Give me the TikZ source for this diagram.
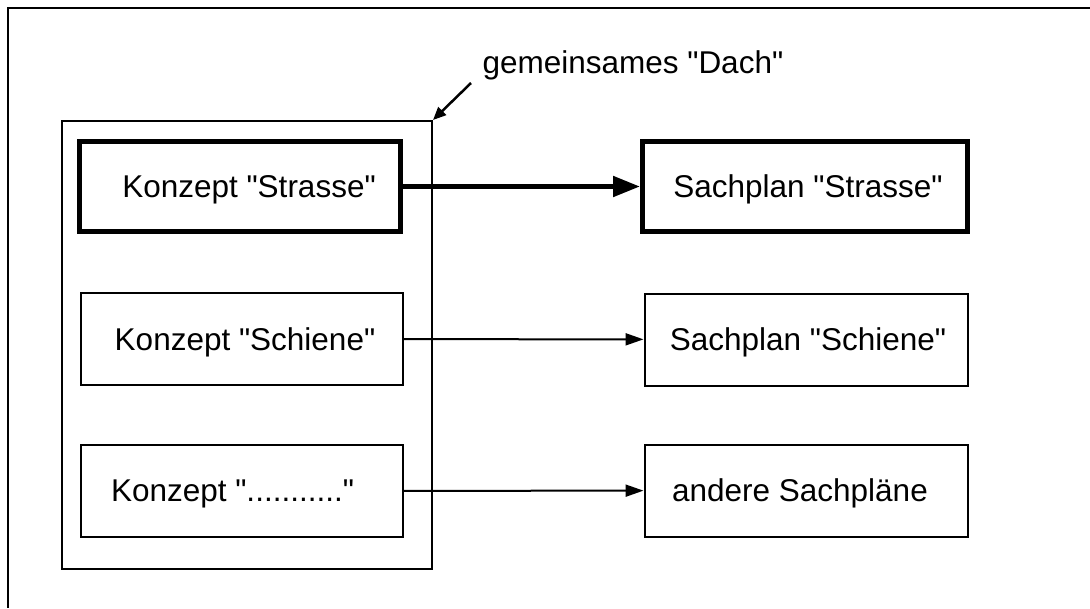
\documentclass[tikz,border=0pt]{standalone}
\usepackage{fontspec}
\setmainfont{Liberation Sans}
\usetikzlibrary{arrows.meta}
\newcommand{\qd}{\textquotedbl}

\begin{document}
\begin{tikzpicture}[x=1pt,y=-1pt,
  every node/.style={font=\fontsize{31.5}{38}\selectfont},
  plan/.style={draw, line width=2pt, minimum width=323pt, minimum height=92pt, inner sep=0pt, text depth=0pt},
  fett/.style={plan, line width=5pt, minimum height=90pt},
  pfeil/.style={line width=2pt, -{Triangle[length=18pt,width=12pt]}},
  fettpfeil/.style={line width=5pt, -{Triangle[length=27pt,width=20pt]}}]
\useasboundingbox (0,0) rectangle (1090,608);
\draw[line width=2.5pt] (1090,8) -- (8,8) -- (8,608);
\node[draw, line width=2pt, minimum width=370pt, minimum height=448pt] (dach) at (247,345) {};
\node[fett, minimum width=321pt] (kstrasse) at (240,186.5) {\hspace*{18pt}Konzept \qd Strasse\qd};
\node[plan, minimum width=322pt] (kschiene) at (242,339) {\hspace*{6pt}Konzept \qd Schiene\qd};
\node[plan, minimum width=322pt] (kandere) at (241.5,491) {Konzept \qd...........\qd\hspace*{18pt}};
\node[fett, minimum width=325pt] (sstrasse) at (805,186.5) {\hspace*{6pt}Sachplan \qd Strasse\qd};
\node[plan] (sschiene) at (806,339.5) {\hspace*{4pt}Sachplan \qd Schiene\qd};
\node[plan] (sandere) at (806,490.5) {andere Sachpläne\hspace*{12pt}};
\draw[fettpfeil] (kstrasse) -- (sstrasse);
\draw[pfeil] (kschiene) -- (sschiene);
\draw[pfeil] (kandere) -- (sandere);
\node[anchor=base west] (dachlabel) at (479,73) {gemeinsames \qd Dach\qd};
\coordinate (zeiger) at (471,83);
\draw[line width=2.5pt, -{Triangle[length=13pt,width=11pt]}] (zeiger) -- (dach.north east);
\end{tikzpicture}
\end{document}
